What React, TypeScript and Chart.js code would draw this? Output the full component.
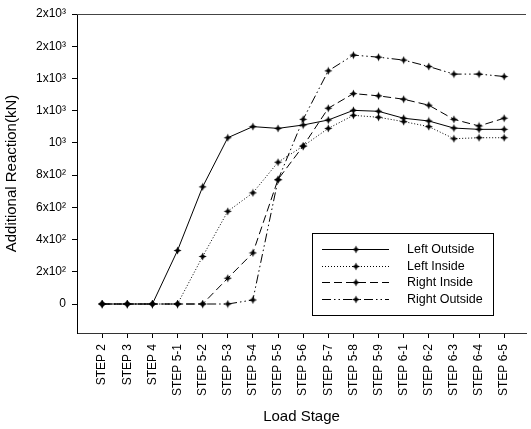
import React, { useEffect, useRef } from "react";
import { Chart, registerables } from "chart.js";

Chart.register(...registerables);

const categories = [
  "STEP 2", "STEP 3", "STEP 4", "STEP 5-1", "STEP 5-2", "STEP 5-3", "STEP 5-4", "STEP 5-5",
  "STEP 5-6", "STEP 5-7", "STEP 5-8", "STEP 5-9", "STEP 6-1", "STEP 6-2", "STEP 6-3", "STEP 6-4", "STEP 6-5",
];

const leftOutside = [0, 0, 0, 332, 727, 1032, 1101, 1090, 1111, 1142, 1202, 1196, 1153, 1136, 1092, 1084, 1084];
const leftInside = [0, 0, 0, 0, 295, 575, 690, 880, 980, 1090, 1171, 1159, 1132, 1101, 1026, 1032, 1032];
const rightInside = [0, 0, 0, 0, 0, 160, 317, 773, 980, 1215, 1306, 1292, 1271, 1234, 1146, 1105, 1153];
const rightOutside = [0, 0, 0, 0, 0, 0, 25, 770, 1146, 1447, 1545, 1532, 1514, 1474, 1427, 1427, 1412];

const seriesNames = ["Left Outside", "Left Inside", "Right Inside", "Right Outside"];

const yTickValues = [0, 200, 400, 600, 800, 1000, 1200, 1400, 1600, 1800];
const yTickLabels = ["0", "2x10²", "4x10²", "6x10²", "8x10²", "10³", "1x10³", "1x10³", "2x10³", "2x10³"];

const FONT = "'Liberation Sans', Arial, sans-serif";

function makeMarker(): HTMLCanvasElement {
  const c = document.createElement("canvas");
  c.width = 9;
  c.height = 9;
  const g = c.getContext("2d")!;
  g.fillStyle = "#000";
  g.beginPath();
  g.moveTo(4.5, 0.5);
  g.lineTo(5.7, 3.3);
  g.lineTo(8.5, 4.5);
  g.lineTo(5.7, 5.7);
  g.lineTo(4.5, 8.5);
  g.lineTo(3.3, 5.7);
  g.lineTo(0.5, 4.5);
  g.lineTo(3.3, 3.3);
  g.closePath();
  g.fill();
  return c;
}

export default function App() {
  const ref = useRef<HTMLCanvasElement | null>(null);

  useEffect(() => {
    if (!ref.current) return;
    const marker = makeMarker();
    const dashes = [[], [1, 2], [8, 4], [9, 3, 1.5, 3, 1.5, 3]];
    const series = [leftOutside, leftInside, rightInside, rightOutside];

    const datasets = series.map((vals, k) => ({
      label: seriesNames[k],
      data: vals.map((v, i) => ({ x: i, y: v })),
      borderColor: "#000",
      backgroundColor: "#000",
      borderWidth: 1,
      borderDash: dashes[k],
      pointStyle: marker as any,
      pointRadius: 4,
      tension: 0,
      fill: false,
    }));

    const framePlugin = {
      id: "frame",
      afterDraw(chart: any) {
        const { ctx, chartArea } = chart;
        ctx.save();
        // top line
        ctx.strokeStyle = "#444";
        ctx.lineWidth = 1;
        ctx.setLineDash([]);
        ctx.beginPath();
        ctx.moveTo(chartArea.left, chartArea.top + 0.5);
        ctx.lineTo(chartArea.right, chartArea.top + 0.5);
        ctx.stroke();

        // legend
        const bx = 312.5, by = 233.5, bw = 181, bh = 82;
        ctx.fillStyle = "#fff";
        ctx.fillRect(bx, by, bw, bh);
        ctx.strokeStyle = "#000";
        ctx.strokeRect(bx, by, bw, bh);
        ctx.font = `12.5px ${FONT}`;
        ctx.textBaseline = "middle";
        ctx.textAlign = "left";
        for (let k = 0; k < seriesNames.length; k++) {
          const y = Math.round(249 + k * 16.7) + 0.5;
          ctx.setLineDash(dashes[k]);
          ctx.strokeStyle = "#000";
          ctx.beginPath();
          ctx.moveTo(322, y);
          ctx.lineTo(389, y);
          ctx.stroke();
          ctx.setLineDash([]);
          ctx.drawImage(marker, 356 - 4.5, y - 4.5);
          ctx.fillStyle = "#000";
          ctx.fillText(seriesNames[k], 407, y);
        }
        ctx.restore();
      },
    };

    const chart = new Chart(ref.current, {
      type: "line",
      data: { datasets },
      plugins: [framePlugin],
      options: {
        responsive: false,
        animation: false,
        layout: { padding: { top: 14, left: 0, right: 0, bottom: 0 } },
        plugins: {
          legend: { display: false },
          tooltip: { enabled: false },
        },
        scales: {
          x: {
            type: "linear",
            min: -1,
            max: 16.87,
            afterBuildTicks: (scale: any) => {
              scale.ticks = categories.map((_, i) => ({ value: i }));
            },
            afterFit: (scale: any) => {
              scale.height = 96;
            },
            ticks: {
              autoSkip: false,
              maxRotation: 90,
              minRotation: 90,
              padding: 6,
              color: "#000",
              font: { family: FONT, size: 12 },
              callback: (v: any) => categories[Math.round(Number(v))] ?? "",
            },
            grid: {
              drawOnChartArea: false,
              drawTicks: true,
              tickLength: 5,
              color: "#000",
            },
            border: { display: true, color: "#333", width: 1 },
            title: {
              display: true,
              text: "Load Stage",
              color: "#000",
              font: { family: FONT, size: 15 },
              padding: 3,
            },
          },
          y: {
            type: "linear",
            min: -180,
            max: 1800,
            afterBuildTicks: (scale: any) => {
              scale.ticks = yTickValues.map((v) => ({ value: v }));
            },
            afterFit: (scale: any) => {
              scale.width = 77;
            },
            ticks: {
              padding: 6,
              color: "#000",
              font: { family: FONT, size: 12 },
              callback: (v: any) => {
                const idx = yTickValues.indexOf(Number(v));
                return idx >= 0 ? yTickLabels[idx] : "";
              },
            },
            grid: {
              drawOnChartArea: false,
              drawTicks: true,
              tickLength: 5,
              color: "#000",
            },
            border: { display: true, color: "#000", width: 1 },
            title: {
              display: true,
              text: "Additional Reaction(kN)",
              color: "#000",
              font: { family: FONT, size: 15 },
              padding: 3,
            },
          },
        },
      },
    });
    return () => chart.destroy();
  }, []);

  return (
    <div style={{ position: "absolute", left: 0, top: 0, width: 531, height: 429 }}>
      <canvas ref={ref} width={531} height={429} style={{ width: 531, height: 429, display: "block" }} />
    </div>
  );
}
